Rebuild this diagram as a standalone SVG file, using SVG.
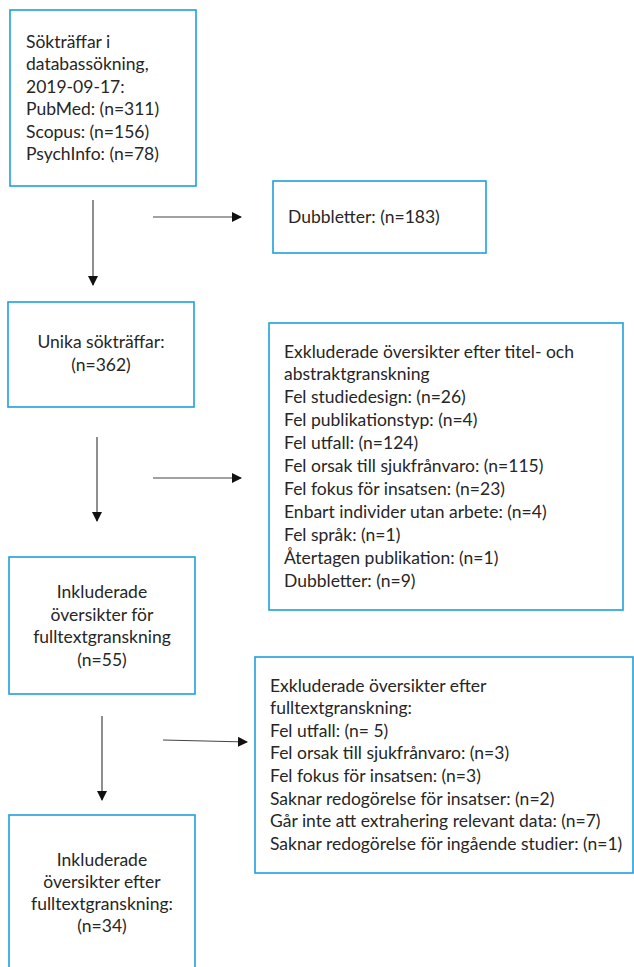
<svg xmlns="http://www.w3.org/2000/svg" width="634" height="967" viewBox="0 0 634 967">
<style>
.box{fill:#fff;stroke:#1ea0dc;stroke-width:1.6}
.t{font-family:Lato,"Liberation Sans",Arial,sans-serif;font-size:17.5px;fill:#262626}
.c{text-anchor:middle}
.ln{stroke:#444;stroke-width:1.2;fill:none}
</style>
<defs>
<marker id="ah" markerWidth="10" markerHeight="10" refX="9" refY="5" orient="auto" markerUnits="userSpaceOnUse">
<path d="M0,0 L10,5 L0,10 z" fill="#111"/>
</marker>
</defs>
<rect width="634" height="967" fill="#fff"/>
<g id="n1">
<rect class="box" x="10" y="10" width="186" height="176"/>
<text class="t" x="26" y="47.5">Sökträffar i</text>
<text class="t" x="26" y="70">databassökning,</text>
<text class="t" x="26" y="92.5">2019-09-17:</text>
<text class="t" x="26" y="115">PubMed: (n=311)</text>
<text class="t" x="26" y="137.5">Scopus: (n=156)</text>
<text class="t" x="26" y="160">PsychInfo: (n=78)</text>
</g>
<g id="n2">
<rect class="box" x="273" y="181" width="213" height="72"/>
<text class="t" x="288" y="222.5">Dubbletter: (n=183)</text>
</g>
<g id="n3">
<rect class="box" x="8" y="302" width="186" height="105"/>
<text class="t c" x="101" y="347.5">Unika sökträffar:</text>
<text class="t c" x="101" y="370.5">(n=362)</text>
</g>
<g id="n4">
<rect class="box" x="269" y="323" width="354" height="287"/>
<text class="t" x="284" y="357.5">Exkluderade översikter efter titel- och</text>
<text class="t" x="284" y="380.4">abstraktgranskning</text>
<text class="t" x="284" y="403.3">Fel studiedesign: (n=26)</text>
<text class="t" x="284" y="426.2">Fel publikationstyp: (n=4)</text>
<text class="t" x="284" y="449.1">Fel utfall: (n=124)</text>
<text class="t" x="284" y="472">Fel orsak till sjukfrånvaro: (n=115)</text>
<text class="t" x="284" y="494.9">Fel fokus för insatsen: (n=23)</text>
<text class="t" x="284" y="517.8">Enbart individer utan arbete: (n=4)</text>
<text class="t" x="284" y="540.7">Fel språk: (n=1)</text>
<text class="t" x="284" y="563.6">Återtagen publikation: (n=1)</text>
<text class="t" x="284" y="586.5">Dubbletter: (n=9)</text>
</g>
<g id="n5">
<rect class="box" x="9" y="557" width="186" height="137"/>
<text class="t c" x="102" y="597.5">Inkluderade</text>
<text class="t c" x="102" y="620.5">översikter för</text>
<text class="t c" x="102" y="643">fulltextgranskning</text>
<text class="t c" x="102" y="666">(n=55)</text>
</g>
<g id="n6">
<rect class="box" x="255" y="657" width="378" height="216"/>
<text class="t" x="270" y="691.5">Exkluderade översikter efter</text>
<text class="t" x="270" y="714.1">fulltextgranskning:</text>
<text class="t" x="270" y="736.7">Fel utfall: (n= 5)</text>
<text class="t" x="270" y="759.3">Fel orsak till sjukfrånvaro: (n=3)</text>
<text class="t" x="270" y="781.9">Fel fokus för insatsen: (n=3)</text>
<text class="t" x="270" y="804.5">Saknar redogörelse för insatser: (n=2)</text>
<text class="t" x="270" y="827.1">Går inte att extrahering relevant data: (n=7)</text>
<text class="t" x="270" y="849.7">Saknar redogörelse för ingående studier: (n=1)</text>
</g>
<g id="n7">
<rect class="box" x="9" y="815" width="186" height="170"/>
<text class="t c" x="102" y="866">Inkluderade</text>
<text class="t c" x="102" y="888">översikter efter</text>
<text class="t c" x="102" y="910">fulltextgranskning:</text>
<text class="t c" x="102" y="932">(n=34)</text>
</g>
<g id="connectors">
<line class="ln" x1="93" y1="200" x2="93" y2="285" marker-end="url(#ah)"/>
<line class="ln" x1="153" y1="217" x2="241" y2="217" marker-end="url(#ah)"/>
<line class="ln" x1="97" y1="437" x2="97" y2="521" marker-end="url(#ah)"/>
<line class="ln" x1="153" y1="478" x2="241" y2="478" marker-end="url(#ah)"/>
<line class="ln" x1="102" y1="716" x2="102" y2="800" marker-end="url(#ah)"/>
<line class="ln" x1="163" y1="740" x2="247" y2="742" marker-end="url(#ah)"/>
</g>
</svg>
